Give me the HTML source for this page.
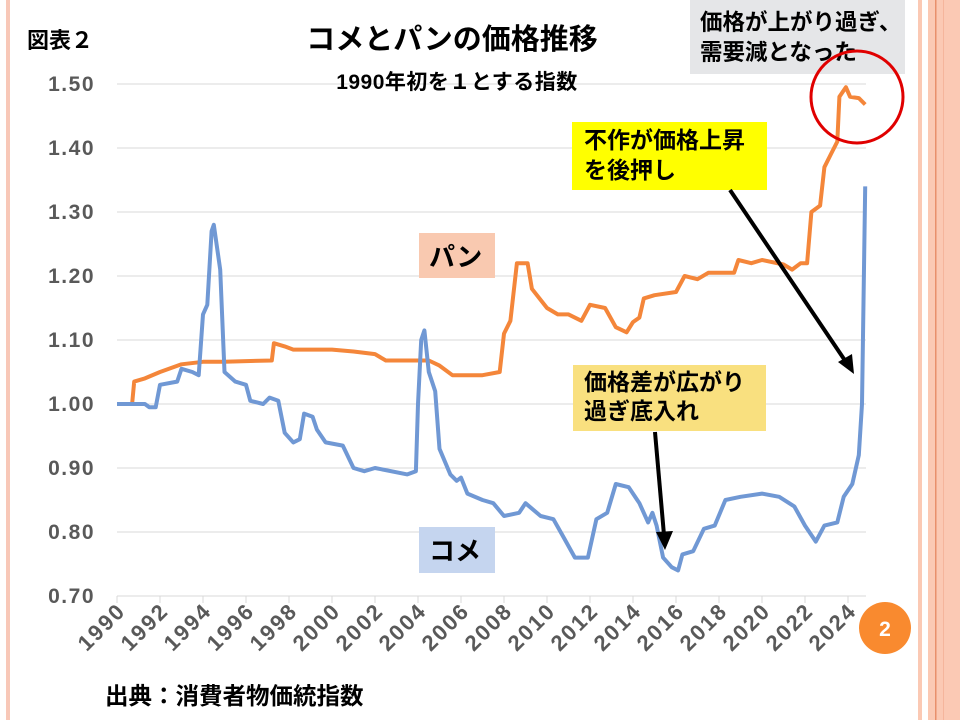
<!DOCTYPE html>
<html><head><meta charset="utf-8">
<style>
html,body{margin:0;padding:0;background:#fff;}
body{width:960px;height:720px;overflow:hidden;position:relative;font-family:"Liberation Sans","Noto Sans CJK JP",sans-serif;}
</style></head>
<body>
<svg id="s" width="960" height="720" xmlns="http://www.w3.org/2000/svg" style="position:absolute;left:0;top:0">
<rect x="6" y="0" width="4" height="720" fill="#f8c8b8"/>
<rect x="918" y="0" width="4" height="720" fill="#fbc9b4"/>
<rect x="928" y="0" width="32" height="720" fill="#fbc9b4"/>
<rect x="935" y="0" width="1.5" height="720" fill="#e8906c"/>
<rect x="943" y="0" width="1" height="720" fill="#f5b59c"/>
<g id="grid" stroke="#d9d9d9" stroke-width="1"></g>
<g id="ylab" font-size="21" font-weight="bold" fill="#595959" text-anchor="end" letter-spacing="1.5"></g>
<g id="xlab" font-size="22" font-weight="bold" fill="#595959" text-anchor="end" letter-spacing="2"></g>
<polyline id="pan" fill="none" stroke="#f4863a" stroke-width="4" stroke-linejoin="round"/>
<polyline id="kome" fill="none" stroke="#7098d4" stroke-width="4" stroke-linejoin="round"/>
<text x="27" y="48" font-size="22" font-weight="bold" fill="#000">図表２</text>
<text x="452" y="49" font-size="29" font-weight="bold" fill="#000" text-anchor="middle">コメとパンの価格推移</text>
<text x="457" y="89" font-size="21" font-weight="bold" fill="#000" text-anchor="middle" letter-spacing="0.5">1990年初を１とする指数</text>
<rect x="690" y="0" width="215" height="74" fill="#e5e6e8"/>
<text x="700" y="30" font-size="22.5" font-weight="bold" fill="#000">価格が上がり過ぎ、</text>
<text x="700" y="60" font-size="22.5" font-weight="bold" fill="#000">需要減となった</text>
<circle cx="857" cy="97" r="46" fill="none" stroke="#e00000" stroke-width="3"/>
<rect x="572" y="122" width="195" height="68" fill="#ffff00"/>
<text x="584" y="148" font-size="23" font-weight="bold" fill="#000">不作が価格上昇</text>
<text x="584" y="178" font-size="23" font-weight="bold" fill="#000">を後押し</text>
<line x1="730" y1="190" x2="846" y2="362" stroke="#000" stroke-width="4"/>
<polygon points="854,374 838,362 852,354" fill="#000"/>
<rect x="573" y="365" width="193" height="66" fill="#f9e07f"/>
<text x="584" y="390" font-size="23" font-weight="bold" fill="#000">価格差が広がり</text>
<text x="584" y="419" font-size="23" font-weight="bold" fill="#000">過ぎ底入れ</text>
<line x1="655" y1="432" x2="664" y2="535" stroke="#000" stroke-width="4"/>
<polygon points="665,550 656,532 673,531" fill="#000"/>
<rect x="419" y="233" width="76" height="45" fill="#f9c9b0"/>
<text x="429" y="266" font-size="26" font-weight="bold" fill="#000">パン</text>
<rect x="419" y="527" width="76" height="46" fill="#c5d5ef"/>
<text x="429" y="560" font-size="26" font-weight="bold" fill="#000">コメ</text>
<circle cx="885" cy="628" r="26" fill="#f98a2f"/>
<text x="885" y="636" font-size="21" font-weight="bold" fill="#fff" text-anchor="middle">2</text>
<text x="105" y="704" font-size="23.5" font-weight="bold" fill="#000">出典：消費者物価統指数</text>
</svg>
<script>
var NS="http://www.w3.org/2000/svg";
function X(t){return 117+(t-1990)*21.5;}
function Y(v){return 596-(v-0.70)*640;}
var g=document.getElementById('grid'),yl=document.getElementById('ylab'),xl=document.getElementById('xlab');
for(var i=0;i<=8;i++){var v=0.7+i*0.1;var l=document.createElementNS(NS,'line');l.setAttribute('x1',117);l.setAttribute('x2',866);l.setAttribute('y1',Y(v));l.setAttribute('y2',Y(v));g.appendChild(l);
var t=document.createElementNS(NS,'text');t.setAttribute('x',95);t.setAttribute('y',Y(v)+7);t.textContent=v.toFixed(2);yl.appendChild(t);}
for(var y=1990;y<=2024;y+=2){var l=document.createElementNS(NS,'line');l.setAttribute('x1',X(y));l.setAttribute('x2',X(y));l.setAttribute('y1',596);l.setAttribute('y2',603);g.appendChild(l);
var t=document.createElementNS(NS,'text');t.setAttribute('transform','translate('+(X(y)+10)+',612) rotate(-45)');t.textContent=y;xl.appendChild(t);}
var pan=[[1990.7,1.0],[1990.8,1.035],[1991.3,1.04],[1992,1.05],[1993,1.062],[1994,1.066],[1995,1.066],[1996,1.067],[1997.2,1.068],[1997.3,1.095],[1997.8,1.09],[1998.2,1.085],[2000,1.085],[2001,1.082],[2002,1.078],[2002.5,1.068],[2004.5,1.068],[2005,1.06],[2005.6,1.045],[2007,1.045],[2007.8,1.05],[2008.0,1.11],[2008.3,1.13],[2008.6,1.22],[2009.1,1.22],[2009.3,1.18],[2010,1.15],[2010.5,1.14],[2011,1.14],[2011.6,1.13],[2012,1.155],[2012.7,1.15],[2013.2,1.12],[2013.7,1.112],[2014,1.128],[2014.3,1.135],[2014.5,1.165],[2015,1.17],[2016,1.175],[2016.4,1.2],[2017,1.195],[2017.5,1.205],[2018.7,1.205],[2018.9,1.225],[2019.5,1.22],[2020,1.225],[2021,1.218],[2021.4,1.21],[2021.8,1.22],[2022.1,1.22],[2022.3,1.3],[2022.7,1.31],[2022.9,1.37],[2023.2,1.39],[2023.5,1.41],[2023.6,1.48],[2023.9,1.495],[2024.1,1.48],[2024.5,1.478],[2024.8,1.468]];
var kome=[[1990,1.0],[1991.3,1.0],[1991.5,0.995],[1991.8,0.995],[1992,1.03],[1992.8,1.035],[1993,1.055],[1993.5,1.05],[1993.8,1.045],[1994,1.14],[1994.2,1.155],[1994.4,1.27],[1994.5,1.28],[1994.8,1.21],[1995,1.05],[1995.5,1.035],[1996,1.03],[1996.2,1.005],[1996.8,1.0],[1997.1,1.01],[1997.5,1.005],[1997.8,0.955],[1998.2,0.94],[1998.5,0.945],[1998.7,0.985],[1999.1,0.98],[1999.3,0.96],[1999.7,0.94],[2000.5,0.935],[2001,0.9],[2001.5,0.895],[2002,0.9],[2003.5,0.89],[2003.9,0.895],[2004.0,1.0],[2004.15,1.1],[2004.3,1.115],[2004.5,1.05],[2004.8,1.02],[2005,0.93],[2005.5,0.89],[2005.8,0.88],[2006,0.885],[2006.3,0.86],[2007,0.85],[2007.5,0.845],[2008,0.825],[2008.7,0.83],[2009,0.845],[2009.7,0.825],[2010.3,0.82],[2010.8,0.79],[2011.3,0.76],[2011.9,0.76],[2012.3,0.82],[2012.8,0.83],[2013.2,0.875],[2013.8,0.87],[2014.3,0.845],[2014.7,0.815],[2014.9,0.83],[2015.1,0.81],[2015.4,0.76],[2015.8,0.745],[2016.1,0.74],[2016.3,0.765],[2016.8,0.77],[2017.3,0.805],[2017.8,0.81],[2018.3,0.85],[2019,0.855],[2020,0.86],[2020.8,0.855],[2021.5,0.84],[2022,0.81],[2022.5,0.785],[2022.9,0.81],[2023.5,0.815],[2023.8,0.855],[2024.2,0.875],[2024.5,0.92],[2024.65,1.0],[2024.8,1.34]];
function pts(a){return a.map(function(p){return X(p[0]).toFixed(1)+','+Y(p[1]).toFixed(1);}).join(' ');}
document.getElementById('pan').setAttribute('points',pts(pan));
document.getElementById('kome').setAttribute('points',pts(kome));
</script>
</body></html>
